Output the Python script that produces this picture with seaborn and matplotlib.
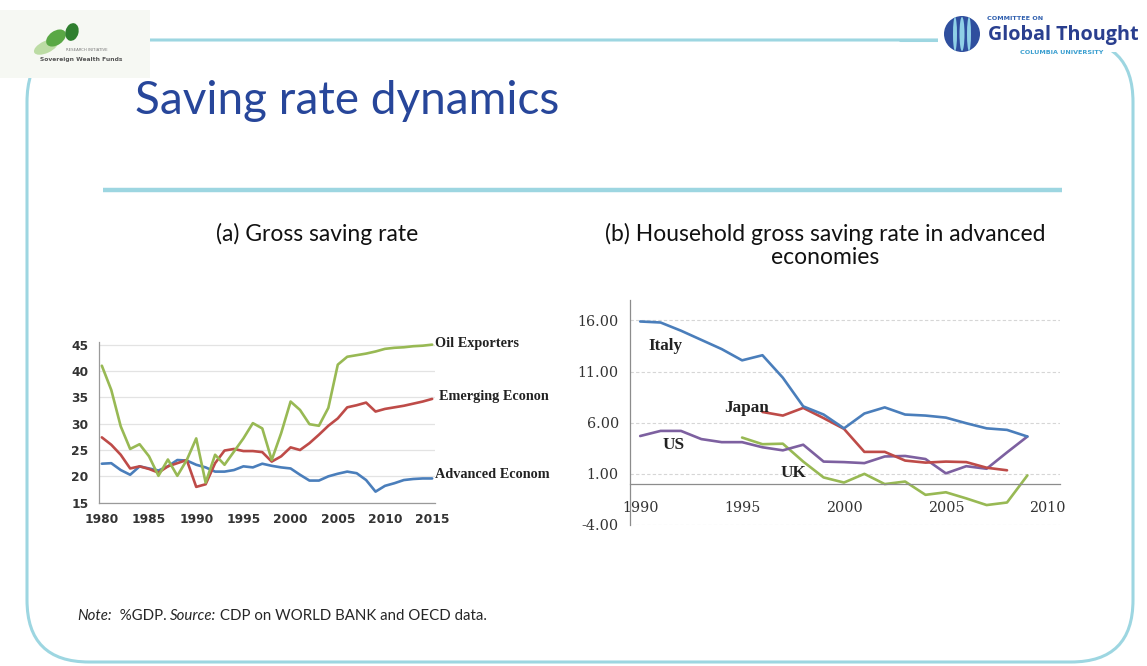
import numpy as np
import pandas as pd
import matplotlib
matplotlib.use("Agg")
import matplotlib.pyplot as plt
from matplotlib.patches import FancyBboxPatch, Rectangle, Ellipse, Circle
import seaborn as sns

# ---- panel (a): gross saving rate, % of GDP ----
years_a = list(range(1980, 2016))
oil_exporters = [41.0, 36.4, 29.5, 25.2, 26.1, 23.8, 20.1, 23.2, 20.1, 23.1,
                 27.2, 18.8, 24.1, 22.2, 24.7, 27.2, 30.1, 29.1, 23.1, 28.2,
                 34.2, 32.6, 29.9, 29.6, 33.0, 41.2, 42.7, 43.0, 43.3, 43.7,
                 44.2, 44.4, 44.5, 44.7, 44.8, 45.0]
emerging = [27.4, 26.0, 24.1, 21.5, 21.9, 21.4, 20.7, 21.9, 22.5, 23.1,
            18.0, 18.5, 22.5, 24.9, 25.2, 24.8, 24.8, 24.6, 22.8, 23.8,
            25.5, 25.0, 26.3, 27.9, 29.6, 31.0, 33.1, 33.5, 34.0, 32.3,
            32.8, 33.1, 33.4, 33.8, 34.2, 34.7]
advanced = [22.4, 22.5, 21.2, 20.3, 21.9, 21.5, 21.1, 21.9, 23.1, 23.0,
            22.2, 21.7, 20.9, 20.9, 21.2, 21.9, 21.7, 22.4, 22.0, 21.7,
            21.5, 20.3, 19.2, 19.2, 20.0, 20.5, 20.9, 20.6, 19.3, 17.1,
            18.2, 18.7, 19.3, 19.5, 19.6, 19.6]
labels_a = ["Oil Exporters", "Emerging Econon", "Advanced Econom"]

# ---- panel (b): household gross saving rate ----
years_italy = list(range(1990, 2010))
italy = [15.9, 15.8, 15.0, 14.1, 13.2, 12.1, 12.6, 10.4, 7.6, 6.8,
         5.45, 6.9, 7.5, 6.8, 6.7, 6.5, 5.95, 5.45, 5.3, 4.65]
years_japan = list(range(1996, 2009))
japan = [7.05, 6.7, 7.45, 6.45, 5.4, 3.15, 3.15, 2.3, 2.1, 2.2, 2.15, 1.6, 1.35]
years_us = list(range(1990, 2010))
us = [4.7, 5.2, 5.2, 4.4, 4.1, 4.1, 3.6, 3.3, 3.85, 2.2,
      2.15, 2.05, 2.7, 2.75, 2.45, 1.05, 1.75, 1.5, 3.1, 4.65]
years_uk = list(range(1995, 2010))
uk = [4.55, 3.9, 3.95, 2.2, 0.65, 0.15, 1.0, 0.0, 0.25, -1.05,
      -0.8, -1.4, -2.05, -1.8, 0.85]

C_BLUE = "#4a7ebb"
C_RED = "#be4b48"
C_GREEN = "#98b954"
C_PURPLE = "#7d60a0"
BORDER = "#9dd6e1"
TITLE = "#27469a"

sns.set_theme(style="white")
plt.rcParams["font.family"] = ["DejaVu Sans"]

W, H = 1147, 666
fig = plt.figure(figsize=(W / 100, H / 100), dpi=100)
fig.patch.set_facecolor("white")

# full-figure layer in pixel coordinates for the slide decoration
bg = fig.add_axes([0, 0, 1, 1], zorder=0)
bg.set_xlim(0, W)
bg.set_ylim(H, 0)
bg.axis("off")

frame = FancyBboxPatch((27, 40), 1106, 622, boxstyle="round,pad=0,rounding_size=62",
                       fill=False, ec=BORDER, lw=2.2)
bg.add_patch(frame)
bg.plot([103, 1062], [190, 190], color=BORDER, lw=3.2, solid_capstyle="butt")

# left logo
bg.add_patch(Rectangle((0, 10), 150, 68, fc="#f6f8f3", ec="none", zorder=3))
bg.add_patch(Ellipse((46, 47), 26, 12, angle=-25, fc="#bcdca4", ec="none", zorder=4))
bg.add_patch(Ellipse((56, 38), 22, 14, angle=-35, fc="#5aa845", ec="none", zorder=4))
bg.add_patch(Ellipse((72, 32), 13, 18, angle=15, fc="#2f7f2f", ec="none", zorder=4))
bg.text(66, 50, "RESEARCH INITIATIVE", fontsize=2.8, color="#777777", zorder=5,
        va="center")
bg.text(40, 60, "Sovereign Wealth Funds", fontsize=4.3, color="#555555", zorder=5,
        va="center", fontweight="bold")

# right logo
bg.add_patch(Rectangle((938, 8), 209, 44, fc="white", ec="none", zorder=3))
bg.plot([900, 938], [40, 40], color=BORDER, lw=2.2, zorder=2)
bg.add_patch(Circle((962, 34), 18, fc="#2f4f9e", ec="none", zorder=4))
for dx, w in [(-7, 4), (0, 5), (7, 4)]:
    bg.add_patch(Ellipse((962 + dx, 34), w, 34, fc="#8fd0e6", ec="none", zorder=5))
bg.text(987, 18, "COMMITTEE ON", fontsize=4.6, color="#2f5fae", fontweight="bold",
        va="center", zorder=5)
bg.text(988, 35, "Global Thought", fontsize=14.2, color="#2a3f8f", fontweight="bold",
        va="center", zorder=5, family="Open Sans")
bg.text(1020, 52, "COLUMBIA UNIVERSITY", fontsize=4.6, color="#3a9fd0", fontweight="bold",
        va="center", zorder=5)

bg.text(135, 101, "Saving rate dynamics", fontsize=33, color=TITLE, va="center",
        family="Lato")
bg.text(317, 234, "(a) Gross saving rate", fontsize=16.5, color="#111111",
        ha="center", va="center", family="Lato")
bg.text(825, 234, "(b) Household gross saving rate in advanced", fontsize=16.5,
        color="#111111", ha="center", va="center", family="Lato")
bg.text(825, 258, "economies", fontsize=16.5,
        color="#111111", ha="center", va="center", family="Lato")

# footnote with italic lead-ins
FS_NOTE = 10.8
t1 = bg.text(77, 616, "Note:", fontsize=FS_NOTE, style="italic", va="center", family="Lato")
t2 = bg.annotate("  %GDP. ", xy=(1, 0.5), xycoords=t1, va="center", fontsize=FS_NOTE,
                 family="Lato")
t3 = bg.annotate("Source:", xy=(1, 0.5), xycoords=t2, va="center", fontsize=FS_NOTE,
                 style="italic", family="Lato")
bg.annotate(" CDP on WORLD BANK and OECD data.", xy=(1, 0.5), xycoords=t3, va="center",
            fontsize=FS_NOTE, family="Lato")

# ---- panel (a) ----
df_a = pd.DataFrame({
    "year": years_a * 3,
    "rate": oil_exporters + emerging + advanced,
    "group": [labels_a[0]] * len(years_a) + [labels_a[1]] * len(years_a)
             + [labels_a[2]] * len(years_a),
})
axa = fig.add_axes([99 / W, 1 - 502.7 / H, 336 / W, 160.7 / H], zorder=2)
sns.lineplot(data=df_a, x="year", y="rate", hue="group",
             palette={labels_a[0]: C_GREEN, labels_a[1]: C_RED, labels_a[2]: C_BLUE},
             hue_order=[labels_a[2], labels_a[1], labels_a[0]],
             lw=1.9, legend=False, ax=axa)
axa.set_xlim(1979.7, 2015.3)
axa.set_ylim(15, 45.5)
axa.set_yticks([15, 20, 25, 30, 35, 40, 45])
axa.set_xticks(range(1980, 2016, 5))
axa.set_xticks(range(1980, 2016), minor=True)
axa.yaxis.grid(True, color="#e3e3e3", lw=0.9)
axa.set_axisbelow(True)
axa.set_xlabel("")
axa.set_ylabel("")
for s in ["top", "right"]:
    axa.spines[s].set_visible(False)
for s in ["left", "bottom"]:
    axa.spines[s].set_color("#9a9a9a")
    axa.spines[s].set_linewidth(0.9)
axa.tick_params(axis="both", which="both", direction="out", color="#9a9a9a",
                length=3.5, width=0.8, labelsize=8.8, labelcolor="#333333", pad=4)
axa.tick_params(axis="x", which="major", pad=4)
for lab in axa.get_xticklabels() + axa.get_yticklabels():
    lab.set_fontweight("bold")
axa.set_facecolor("none")
for lbl, y, dx in [(labels_a[0], 45.3, 0), (labels_a[1], 35.2, 3), (labels_a[2], 20.4, 0)]:
    axa.annotate(lbl, xy=(1, y), xycoords=("axes fraction", "data"),
                 xytext=(dx, 0), textcoords="offset points",
                 fontsize=10.3, fontweight="bold", family="Liberation Serif",
                 color="#222222", va="center", annotation_clip=False)

# ---- panel (b) ----
df_b = pd.concat([
    pd.DataFrame({"year": years_italy, "rate": italy, "country": "Italy"}),
    pd.DataFrame({"year": years_japan, "rate": japan, "country": "Japan"}),
    pd.DataFrame({"year": years_us, "rate": us, "country": "US"}),
    pd.DataFrame({"year": years_uk, "rate": uk, "country": "UK"}),
], ignore_index=True)
axb = fig.add_axes([630 / W, 1 - 525 / H, 430 / W, 225 / H], zorder=2)
sns.lineplot(data=df_b, x="year", y="rate", hue="country",
             palette={"Italy": C_BLUE, "Japan": C_RED, "US": C_PURPLE, "UK": C_GREEN},
             hue_order=["UK", "US", "Japan", "Italy"],
             lw=1.9, legend=False, ax=axb)
axb.set_xlim(1989.5, 2010.6)
axb.set_ylim(-4, 18)
axb.set_yticks([-4, 1, 6, 11, 16])
axb.set_yticklabels(["-4.00", "1.00", "6.00", "11.00", "16.00"])
axb.set_xticks(range(1990, 2011, 5))
axb.set_xticks(range(1990, 2011), minor=True)
axb.yaxis.grid(True, color="#d6d6d6", lw=0.8, ls=(0, (3, 2)))
axb.set_axisbelow(True)
axb.set_xlabel("")
axb.set_ylabel("")
axb.spines["bottom"].set_position(("data", 0))
for s in ["top", "right"]:
    axb.spines[s].set_visible(False)
for s in ["left", "bottom"]:
    axb.spines[s].set_color("#8c8c8c")
    axb.spines[s].set_linewidth(0.9)
axb.tick_params(axis="both", which="both", direction="out", color="#8c8c8c",
                length=4, width=0.8, labelsize=10.3, labelcolor="#333333")
axb.tick_params(axis="x", which="major", pad=8)
axb.tick_params(axis="y", which="major", pad=4)
for lab in axb.get_xticklabels() + axb.get_yticklabels():
    lab.set_family("DejaVu Serif")
axb.set_facecolor("none")
for lbl, x, y in [("Italy", 1990.4, 13.5), ("Japan", 1994.1, 7.4),
                  ("US", 1991.1, 3.8), ("UK", 1996.9, 1.1)]:
    axb.text(x, y, lbl, fontsize=12.3, fontweight="bold", family="Liberation Serif",
             color="#222222", va="center")

fig.savefig("out.png", dpi=100, facecolor="white")
